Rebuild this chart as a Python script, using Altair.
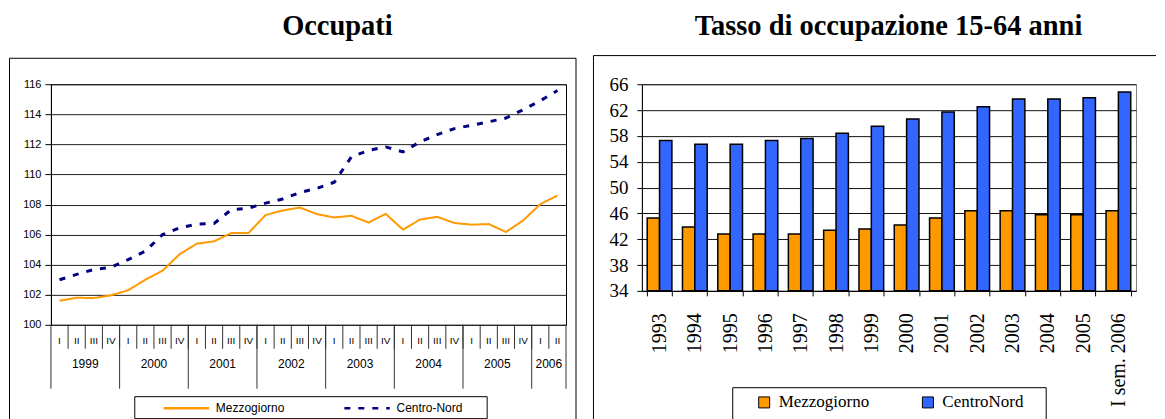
import altair as alt
import pandas as pd

# ---------------- data: left panel (Occupati) ----------------
quarters = ["I", "II", "III", "IV"] * 7 + ["I", "II"]
years = ["1999", "2000", "2001", "2002", "2003", "2004", "2005", "2006"]
year_quarters = [4, 4, 4, 4, 4, 4, 4, 2]
occ_series = ["Mezzogiorno", "Centro-Nord"]
mezzogiorno_occ = [101.6, 101.8, 101.78, 101.96, 102.3, 103.0, 103.6, 104.7,
                   105.4, 105.55, 106.1, 106.1, 107.3, 107.6, 107.8, 107.36,
                   107.14, 107.25, 106.8, 107.38, 106.33, 107.0, 107.18, 106.77,
                   106.66, 106.7, 106.17, 106.94, 108.02, 108.6]
centro_nord_occ = [103.0, 103.35, 103.68, 103.83, 104.34, 104.9, 106.0, 106.45,
                   106.7, 106.74, 107.65, 107.76, 108.09, 108.37, 108.8, 109.08,
                   109.48, 111.17, 111.6, 111.83, 111.5, 112.17, 112.65, 113.05,
                   113.27, 113.5, 113.75, 114.3, 114.9, 115.58]
occ_ticks = [100, 102, 104, 106, 108, 110, 112, 114, 116]

# ---------------- data: right panel (Tasso di occupazione) ----------------
rate_labels = ["1993", "1994", "1995", "1996", "1997", "1998", "1999", "2000",
               "2001", "2002", "2003", "2004", "2005", "I sem. 2006"]
rate_series = ["Mezzogiorno", "CentroNord"]
mezzogiorno_rate = [45.3, 43.9, 42.8, 42.8, 42.8, 43.4, 43.6, 44.2, 45.3, 46.4,
                    46.4, 45.8, 45.8, 46.4]
centronord_rate = [57.3, 56.7, 56.7, 57.3, 57.6, 58.4, 59.5, 60.6, 61.7, 62.5,
                   63.7, 63.7, 63.9, 64.8]
rate_ticks = [34, 38, 42, 46, 50, 54, 58, 62, 66]

SANS = "Liberation Sans"
SERIF = "Liberation Serif"
LW, LH = 516, 241
RW, RH = 495, 207

# ---------------- tables ----------------
n = len(quarters)
occ_df = pd.DataFrame({
    "t": list(range(n)) * 2,
    "series": [occ_series[0]] * n + [occ_series[1]] * n,
    "value": mezzogiorno_occ + centro_nord_occ,
})
q_df = pd.DataFrame({"t": list(range(n)), "q": quarters})
qsep_df = pd.DataFrame({"b": list(range(1, n))})
starts = [sum(year_quarters[:i]) for i in range(len(years))]
ysep_df = pd.DataFrame({"b": starts + [n]})
ylab_df = pd.DataFrame({"year": years, "s": starts, "k": year_quarters})
one = pd.DataFrame({"a": [0]})

xq = alt.Scale(domain=[0, n], nice=False, zero=False)
yq = alt.Scale(domain=[100, 116], nice=False, zero=False)
occ_color = alt.Scale(domain=occ_series, range=["#FF9900", "#000080"])
occ_dash = alt.Scale(domain=occ_series, range=[[1, 0], [6, 8]])
occ_legend = alt.Legend(
    orient="none", legendX=111.7, legendY=300.5, direction="horizontal", title=None,
    labelFont=SANS, labelFontSize=12, labelColor="black", symbolType="stroke",
    symbolSize=2070, symbolStrokeWidth=2.5, labelOffset=5.5, columnPadding=54,
    padding=0, rowPadding=0,
)

base_l = alt.Chart(occ_df).transform_calculate(xpos="datum.t + 0.5")
enc_common = dict(
    x=alt.X("xpos:Q", scale=xq, axis=None),
    y=alt.Y("value:Q", scale=yq, title=None,
            axis=alt.Axis(values=occ_ticks, labelFont=SANS, labelFontSize=11,
                          labelColor="black", tickColor="black", tickSize=6,
                          labelPadding=4, domainColor="black", gridColor="#222",
                          gridWidth=1, grid=True)),
    color=alt.Color("series:N", scale=occ_color, legend=occ_legend),
    strokeDash=alt.StrokeDash("series:N", scale=occ_dash, legend=occ_legend),
)
line_m = base_l.transform_filter(alt.datum.series == occ_series[0]).mark_line(
    strokeWidth=2).encode(**enc_common)
line_c = base_l.transform_filter(alt.datum.series == occ_series[1]).mark_line(
    strokeWidth=3).encode(**enc_common)

qlab = alt.Chart(q_df).transform_calculate(xpos="datum.t + 0.5").mark_text(
    font=SANS, fontSize=10, color="black", baseline="middle").encode(
    x=alt.X("xpos:Q", scale=xq), y=alt.value(LH + 16), text="q:N")
qsep = alt.Chart(qsep_df).mark_rule(color="#333", strokeWidth=1).encode(
    x=alt.X("b:Q", scale=xq), y=alt.value(LH), y2=alt.value(LH + 24))
ysep = alt.Chart(ysep_df).mark_rule(color="#333", strokeWidth=1).encode(
    x=alt.X("b:Q", scale=xq), y=alt.value(LH), y2=alt.value(LH + 64))
ylab = alt.Chart(ylab_df).transform_calculate(xpos="datum.s + datum.k / 2").mark_text(
    font=SANS, fontSize=12, color="black", baseline="middle").encode(
    x=alt.X("xpos:Q", scale=xq), y=alt.value(LH + 39), text="year:N")


def rule(x1, x2, y1, y2, color="black", width=1.0, opacity=1.0):
    return alt.Chart(one).mark_rule(color=color, strokeWidth=width,
                                    strokeOpacity=opacity).encode(
        x=alt.value(x1), x2=alt.value(x2), y=alt.value(y1), y2=alt.value(y2))


def box(x1, x2, y1, y2):
    return alt.Chart(one).mark_rect(filled=False, stroke="black", strokeWidth=1).encode(
        x=alt.value(x1), x2=alt.value(x2), y=alt.value(y1), y2=alt.value(y2))


def title(text, x, y):
    return alt.Chart(pd.DataFrame({"t": [text]})).mark_text(
        font=SERIF, fontSize=28.5, fontWeight="bold", color="black",
        align="center", baseline="alphabetic").encode(
        x=alt.value(x), y=alt.value(y), text="t:N")


left = alt.layer(
    line_m, line_c, qsep, ysep, qlab, ylab,
    rule(-41.5, 526, -26, -26), rule(-41.5, -41.5, -26, 336), rule(526, 526, -26, 336),
    rule(-41.5, 0, -75, -75, opacity=0),
    box(84, 437, 313, 335),
    title("Occupati", 287, -49),
).properties(width=LW, height=LH)

# ---------------- right panel ----------------
rate_df = pd.DataFrame({
    "year": rate_labels * 2,
    "series": [rate_series[0]] * len(rate_labels) + [rate_series[1]] * len(rate_labels),
    "value": mezzogiorno_rate + centronord_rate,
})
rate_legend = alt.Legend(
    orient="none", legendX=114, legendY=310, direction="horizontal", title=None,
    labelFont=SERIF, labelFontSize=17, labelColor="black", symbolType="square",
    symbolSize=121, symbolStrokeColor="black", symbolStrokeWidth=1,
    symbolOpacity=1, labelOffset=6, columnPadding=50, padding=0, rowPadding=0,
)
bars = alt.Chart(rate_df).mark_bar(stroke="black", strokeWidth=1.5).encode(
    x=alt.X("year:N", sort=rate_labels, title=None,
            scale=alt.Scale(paddingInner=0.3, paddingOuter=0.15),
            axis=alt.Axis(labelAngle=270, labelFont=SERIF, labelFontSize=20,
                          labelColor="black", tickColor="black", tickSize=5,
                          tickBand="extent", labelPadding=17, domainColor="black",
                          labelBaseline="middle", labelAlign="right")),
    xOffset=alt.XOffset("series:N", sort=rate_series,
                        scale=alt.Scale(domain=rate_series, paddingInner=0, paddingOuter=0)),
    y=alt.Y("value:Q", title=None, scale=alt.Scale(domain=[34, 66], nice=False, zero=False),
            axis=alt.Axis(values=rate_ticks, labelFont=SERIF, labelFontSize=19,
                          labelColor="black", tickColor="black", tickSize=5,
                          labelPadding=9, domainColor="black", gridColor="#111",
                          grid=True)),
    y2=alt.datum(34),
    color=alt.Color("series:N", scale=alt.Scale(domain=rate_series,
                                                range=["#FF9900", "#3366FF"]),
                    legend=rate_legend),
)

right = alt.layer(
    bars,
    rule(-48.5, 515, -28.7, -28.7), rule(-48.5, -48.5, -28.7, 336),
    box(91, 405, 304, 340),
    title("Tasso di occupazione 15-64 anni", 247, -49),
).properties(width=RW, height=RH, view=alt.ViewBackground(stroke="#808080"))

chart = alt.hconcat(left, right, spacing=76, bounds="flush").resolve_scale(
    color="independent", strokeDash="independent", x="independent", y="independent"
).resolve_legend(
    color="independent", strokeDash="independent"
).properties(
    padding=0, background="white"
).configure_view(stroke="black")

chart.save("out.html", embed_options={"renderer": "svg", "actions": False})
